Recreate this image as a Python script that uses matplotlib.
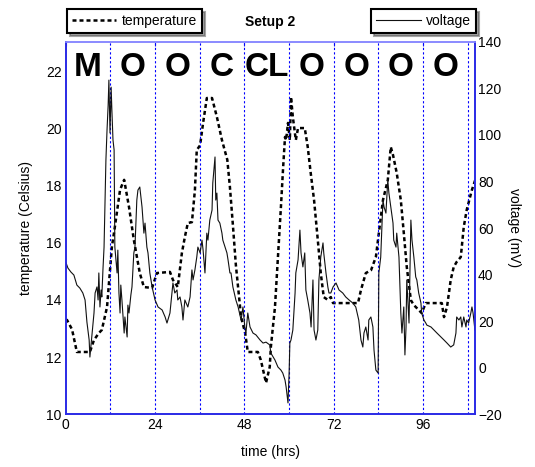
import matplotlib.pyplot as plt
import numpy as np

plt.rcParams['font.family'] = ['Liberation Sans', 'DejaVu Sans']

# temperature trace (hours, Celsius) - dashed, left axis
temp_hr = [0.0, 0.35, 1.7, 3.0, 6.5, 7.6, 8.9, 9.7, 11.1, 12.4, 13.2, 14.6, 15.7, 17.0,
           18.3, 19.9, 21.0, 23.2, 24.5, 28.0, 28.8, 30.1, 31.2, 32.0, 32.8, 33.9, 34.7,
           35.2, 36.1, 36.9, 37.9, 39.3, 40.6, 41.96, 43.4, 44.1, 44.9, 45.7, 47.1, 48.2,
           48.9, 51.6, 52.4, 53.8, 54.8, 55.1, 56.2, 57.0, 57.8, 58.4, 58.9, 59.2, 59.7,
           60.2, 60.5, 61.0, 61.8, 62.4, 64.2, 65.0, 65.8, 66.7, 67.7, 68.5, 69.3, 70.4,
           71.2, 71.8, 78.5, 79.3, 80.6, 82.0, 83.3, 84.1, 85.2, 86.5, 87.3, 87.9, 88.9,
           90.0, 90.8, 91.6, 92.7, 93.5, 94.8, 95.6, 96.7, 101.0, 101.6, 102.4, 103.4,
           104.2, 105.0, 106.1, 106.9, 107.7, 109.1, 110.0]
temp_c = [13.30, 13.30, 12.97, 12.18, 12.18, 12.60, 12.84, 12.95, 13.75, 15.85, 16.55, 17.85,
          18.20, 17.25, 16.10, 14.94, 14.45, 14.42, 14.94, 14.98, 14.70, 14.45, 15.64, 16.20,
          16.69, 16.72, 17.84, 19.24, 19.41, 20.19, 21.06, 21.06, 20.40, 19.59, 18.90, 17.95,
          16.62, 15.22, 13.40, 12.84, 12.18, 12.18, 11.90, 11.10, 11.66, 12.36, 13.75, 15.50,
          17.25, 18.65, 19.70, 19.59, 20.19, 19.59, 21.10, 20.40, 19.59, 20.01, 20.01, 19.35,
          18.44, 17.49, 16.10, 14.94, 14.10, 14.00, 14.10, 13.89, 13.89, 14.35, 14.94, 15.04,
          15.50, 16.34, 17.49, 18.19, 19.35, 19.07, 18.44, 17.49, 16.34, 15.15, 13.99, 13.82,
          13.65, 13.54, 13.89, 13.89, 13.40, 13.75, 14.70, 15.15, 15.33, 15.50, 16.55, 17.15,
          17.85, 18.20]

# voltage trace (hours, mV) - solid, right axis
volt_hr = [0.1, 0.6, 1.4, 2.2, 3.0, 3.8, 4.6, 5.2, 5.7, 6.3, 6.5, 7.1, 7.6, 7.9, 8.4, 8.7,
           8.9, 9.2, 9.5, 9.7, 10.0, 10.3, 10.6, 10.8, 11.1, 11.4, 11.6, 11.9, 12.2, 12.4,
           12.7, 13.0, 13.2, 13.5, 13.8, 14.0, 14.3, 14.6, 14.8, 15.1, 15.7, 15.9, 16.5,
           16.7, 17.0, 17.5, 17.8, 18.3, 18.6, 19.1, 19.4, 19.9, 20.5, 21.0, 21.3, 21.8,
           22.1, 22.6, 23.2, 24.0, 24.8, 25.9, 26.7, 27.2, 28.0, 28.8, 29.3, 29.9, 30.1,
           30.7, 31.2, 31.5, 32.0, 32.8, 33.4, 33.9, 34.2, 34.7, 35.2, 35.5, 36.1, 36.6,
           36.9, 37.4, 37.9, 38.2, 38.7, 39.3, 39.5, 40.1, 40.3, 40.6, 40.9, 41.4, 41.96,
           42.2, 42.8, 43.3, 43.6, 44.1, 44.4, 44.9, 45.7, 46.3, 47.1, 47.6, 48.1, 48.4,
           48.9, 49.5, 50.3, 51.1, 52.2, 53.0, 53.8, 54.8, 55.1, 56.2, 57.0, 57.8, 58.3,
           58.9, 59.2, 59.7, 60.0, 60.2, 60.5, 61.0, 61.6, 61.8, 62.4, 62.9, 63.2, 63.7,
           64.2, 64.5, 65.0, 65.6, 65.9, 66.4, 66.7, 67.2, 67.7, 68.0, 68.5, 69.1, 69.3,
           69.9, 70.4, 70.7, 71.2, 71.8, 72.6, 73.4, 74.4, 75.2, 76.1, 77.1, 77.9, 78.7,
           79.3, 79.8, 80.1, 80.6, 81.2, 81.4, 81.96, 82.5, 82.8, 83.3, 83.9, 84.1, 84.6,
           85.2, 85.5, 86.0, 86.5, 86.8, 87.3, 87.9, 88.1, 88.7, 88.9, 89.5, 90.0, 90.3,
           90.8, 91.1, 91.4, 91.6, 92.2, 92.7, 93.0, 93.5, 94.0, 94.3, 94.8, 95.4, 95.6,
           96.2, 96.7, 97.0, 98.1, 98.9, 99.7, 100.8, 101.6, 102.4, 103.4, 104.2, 104.8,
           105.0, 105.6, 106.1, 106.4, 106.9, 107.5, 107.7, 108.2, 108.8, 109.1, 109.4, 109.9]
volt_mv = [45.0, 42.8, 41.1, 39.8, 35.5, 34.2, 32.1, 29.1, 19.6, 11.9, 4.6, 14.9, 23.5, 32.1,
           34.7, 29.1, 40.7, 26.1, 33.4, 30.4, 42.0, 51.8, 75.0, 89.2, 102.1, 112.8, 123.5,
           100.8, 120.5, 110.7, 97.8, 93.5, 51.8, 46.3, 40.7, 50.5, 32.1, 23.5, 35.5, 29.1,
           14.9, 21.8, 13.2, 26.9, 23.5, 31.2, 34.7, 49.3, 51.8, 72.0, 76.3, 77.6, 69.0, 57.8,
           62.1, 51.8,
           49.3, 40.7, 34.7, 29.1, 26.1, 24.8, 21.8, 19.2, 23.5, 36.4, 32.1, 33.4, 29.1,
           30.4, 26.1, 20.5, 29.1, 26.1, 30.4, 42.0, 37.7, 42.0, 47.5, 51.8, 49.3, 54.8,
           50.5, 40.7, 57.8, 54.8, 63.4, 67.7, 79.3, 90.5, 72.0, 75.0, 63.4, 62.1, 57.8,
           54.8, 51.8, 49.3, 46.3, 40.7, 40.7, 34.7, 29.1, 26.1, 20.5, 26.1, 17.5, 14.9,
           23.5, 17.5, 14.9, 14.1, 11.9, 10.6, 11.0, 9.8, 6.3, 3.3, 0.3, -1.0, -2.3,
           -5.3, -8.3, -15.1, -2.3, 10.6, 11.9, 16.2, 32.1, 40.7, 46.3, 59.1, 49.3, 43.3,
           49.3, 33.4, 29.1, 23.5, 17.5, 37.7, 16.2, 11.9, 16.2, 37.7, 47.5, 53.6, 49.3,
           40.7, 34.7, 32.1, 32.1, 34.7, 36.4, 33.4, 32.1, 30.4, 29.1, 27.8, 26.1, 20.5,
           11.9, 8.9, 14.9, 17.5, 11.9, 20.5, 21.8, 17.5, 7.6, -1.0, -2.3, 40.7, 47.5,
           72.0, 69.0, 66.4, 80.6, 75.0, 69.0, 62.1, 54.8, 51.8, 57.8, 47.5, 23.5, 14.9,
           26.1, 5.5, 17.5, 37.7, 19.2, 63.4, 54.8, 47.5, 39.0, 37.7, 32.1, 27.8, 23.5,
           20.5, 19.2, 18.3, 17.5, 16.2, 14.9, 13.2, 11.9, 10.6, 8.9, 9.8, 14.9,
           21.8, 20.5, 21.8, 17.5, 21.8, 17.5, 20.5, 19.2, 23.5, 26.1, 23.5, 16.2]

period_edges = [12, 24, 36, 48, 60, 72, 84, 96, 108]
period_labels = ['M', 'O', 'O', 'C', 'CL', 'O', 'O', 'O', 'O']
x_ticks = [0, 24, 48, 72, 96]
temp_ticks = [10, 12, 14, 16, 18, 20, 22]
volt_ticks = [-20, 0, 20, 40, 60, 80, 100, 120, 140]

blue = '#2a2ae6'

fig = plt.figure(figsize=(5.35, 4.67), dpi=100)
ax = fig.add_axes([0.1228, 0.1128, 0.7656, 0.7979])
ax2 = ax.twinx()

l1, = ax.plot(temp_hr, temp_c, color='black', lw=1.8, dashes=(1.6, 1.2), label='temperature')
l2, = ax2.plot(volt_hr, volt_mv, color='#111111', lw=0.8, label='voltage')

for e in period_edges:
    ax.axvline(e, color='blue', lw=0.8, dashes=(2, 2))

centers = [e - 6 for e in period_edges]
for c, lab in zip(centers, period_labels):
    ax.text(c, 0.93, lab, transform=ax.get_xaxis_transform(), ha='center', va='center',
            fontsize=24, fontweight='bold')

ax.set_xlim(0, 110)
ax.set_ylim(10, 23.03)
ax2.set_ylim(-20, 140)
ax.set_xticks(x_ticks)
ax.set_yticks(temp_ticks)
ax2.set_yticks(volt_ticks)

for a in (ax, ax2):
    for s in a.spines.values():
        s.set_color(blue)
        s.set_linewidth(1.2)
    a.spines['top'].set_color('#8a8aff')
    a.tick_params(labelsize=10, direction='in', length=3, color=blue, pad=2)
ax.tick_params(top=True, left=False, bottom=False, pad=3)
ax2.tick_params(right=False)

ax.set_xlabel('time (hrs)', fontsize=10, labelpad=9)
ax.set_ylabel('temperature (Celsius)', fontsize=10, labelpad=9)
ax2.set_ylabel('voltage (mV)', fontsize=10, rotation=270, labelpad=14)

fig.text(0.505, 1 - 22 / 467, 'Setup 2', ha='center', va='center', fontsize=10,
         fontweight='bold')

leg_kw = dict(fontsize=10, frameon=True, fancybox=False, shadow=True, handlelength=3.2,
              borderpad=0.35, handletextpad=0.4, borderaxespad=0)
lg1 = fig.legend(handles=[l1], loc='upper left', bbox_to_anchor=(67 / 535, 1 - 9 / 467),
                 **leg_kw)
lg2 = fig.legend(handles=[l2], loc='upper right', bbox_to_anchor=(476 / 535, 1 - 9 / 467),
                 **leg_kw)
for lg in (lg1, lg2):
    lg.get_frame().set_edgecolor('black')
    lg.get_frame().set_linewidth(1.5)

fig.savefig('out.png', dpi=100)
